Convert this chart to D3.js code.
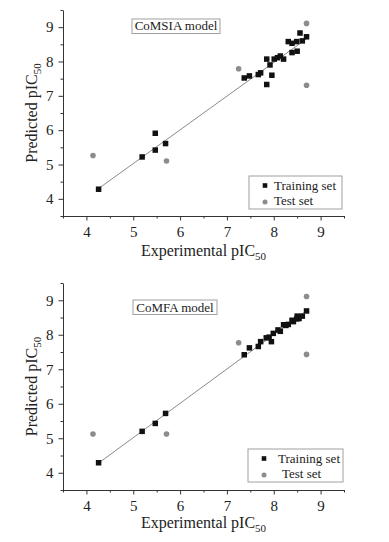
<!DOCTYPE html>
<html>
<head>
<meta charset="utf-8">
<script src="https://cdn.jsdelivr.net/npm/d3@7"></script>
<style>
  body { margin: 0; background: #fff; }
  svg { display: block; }
</style>
</head>
<body>
<div id="chart"></div>
<script>
// CoMSIA model (top panel) - [experimental, predicted]
const comsiaTraining = [
  [4.26, 4.28], [5.19, 5.22], [5.47, 5.42], [5.47, 5.91], [5.69, 5.61],
  [7.37, 7.52], [7.48, 7.58], [7.67, 7.62], [7.72, 7.67], [7.85, 8.07],
  [7.85, 7.33], [7.92, 7.90], [7.96, 7.60], [8.01, 8.07], [8.08, 8.11],
  [8.14, 8.16], [8.21, 8.07], [8.31, 8.58], [8.39, 8.53], [8.39, 8.26],
  [8.49, 8.58], [8.50, 8.30], [8.56, 8.83], [8.61, 8.60], [8.70, 8.72]
];
const comsiaTest = [[4.14, 5.26], [5.71, 5.10], [7.25, 7.79], [8.70, 9.11], [8.70, 7.31]];
const comsiaFit = [[4.26, 4.30], [8.70, 8.66]];

// CoMFA model (bottom panel)
const comfaTraining = [
  [4.26, 4.29], [5.19, 5.20], [5.47, 5.43], [5.69, 5.72],
  [7.37, 7.42], [7.48, 7.62], [7.67, 7.66], [7.72, 7.80], [7.84, 7.91],
  [7.90, 7.93], [7.95, 7.80], [7.99, 8.04], [8.09, 8.14], [8.14, 8.10],
  [8.21, 8.29], [8.26, 8.27], [8.31, 8.30], [8.39, 8.42], [8.42, 8.38],
  [8.49, 8.46], [8.50, 8.54], [8.54, 8.47], [8.61, 8.54], [8.70, 8.69]
];
const comfaTest = [[4.14, 5.12], [5.71, 5.12], [7.25, 7.77], [8.70, 9.11], [8.70, 7.43]];
const comfaFit = [[4.26, 4.28], [8.70, 8.70]];

const majorTicks = [4, 5, 6, 7, 8, 9];
const minorTicks = [3.5, 4.5, 5.5, 6.5, 7.5, 8.5, 9.5];
const legendLabels = ["Training set", "Test set"];

const W = 389, H = 542;
const font = "'Liberation Serif', 'Times New Roman', serif";

const svg = d3.select("#chart").append("svg")
  .attr("width", W)
  .attr("height", H);

// panel layout settings
const panels = [
  { title: "CoMSIA model", training: comsiaTraining, test: comsiaTest, fit: comsiaFit,
    yTop: 10, yBottom: 216, box: [132, 19, 88, 14.5], textY: 30,
    legend: [249, 176, 93, 33], legX: [25, 25], xPad: 6, xTitleY: 255.5 },
  { title: "CoMFA model", training: comfaTraining, test: comfaTest, fit: comfaFit,
    yTop: 283, yBottom: 490, box: [133, 300, 84, 14.5], textY: 311.5,
    legend: [248, 449, 95, 33], legX: [30, 34], xPad: 5.5, xTitleY: 527.5 }
];

const x0 = 63, x1 = 344;

panels.forEach(p => {
  const x = d3.scaleLinear().domain([3.5, 9.5]).range([x0, x1]);
  const y = d3.scaleLinear().domain([3.5, 9.5]).range([p.yBottom, p.yTop]);
  const g = svg.append("g");

  // minor ticks
  g.append("g")
    .attr("transform", `translate(0,${p.yBottom})`)
    .call(d3.axisBottom(x).tickValues(minorTicks).tickSize(2.5).tickFormat(""))
    .call(a => a.select(".domain").remove());
  g.append("g")
    .attr("transform", `translate(${x0},0)`)
    .call(d3.axisLeft(y).tickValues(minorTicks).tickSize(2.5).tickFormat(""))
    .call(a => a.select(".domain").remove());

  // major axes
  const xAxis = g.append("g")
    .attr("transform", `translate(0,${p.yBottom})`)
    .call(d3.axisBottom(x).tickValues(majorTicks).tickSize(4.5).tickSizeOuter(0)
      .tickPadding(p.xPad).tickFormat(d3.format("d")));
  const yAxis = g.append("g")
    .attr("transform", `translate(${x0},0)`)
    .call(d3.axisLeft(y).tickValues(majorTicks).tickSize(4.5).tickSizeOuter(0)
      .tickPadding(5).tickFormat(d3.format("d")));

  [xAxis, yAxis].forEach(a => {
    a.selectAll("path, line").attr("stroke", "#333");
    a.selectAll("text")
      .attr("font-family", font)
      .attr("font-size", 15)
      .attr("fill", "#222");
  });
  g.selectAll("line").attr("stroke", "#333");

  // fit line
  g.append("line")
    .attr("x1", x(p.fit[0][0])).attr("y1", y(p.fit[0][1]))
    .attr("x2", x(p.fit[1][0])).attr("y2", y(p.fit[1][1]))
    .attr("stroke", "#8a8a8a")
    .attr("stroke-width", 1);

  // test set
  g.selectAll("circle.test")
    .data(p.test)
    .enter().append("circle")
    .attr("class", "test")
    .attr("cx", d => x(d[0]))
    .attr("cy", d => y(d[1]))
    .attr("r", 2.8)
    .attr("fill", "#8c8c8c");

  // training set
  const s = 5.5;
  g.selectAll("rect.train")
    .data(p.training)
    .enter().append("rect")
    .attr("class", "train")
    .attr("x", d => x(d[0]) - s / 2)
    .attr("y", d => y(d[1]) - s / 2)
    .attr("width", s)
    .attr("height", s)
    .attr("fill", "#111");

  // model label box
  g.append("rect")
    .attr("x", p.box[0]).attr("y", p.box[1])
    .attr("width", p.box[2]).attr("height", p.box[3])
    .attr("fill", "white")
    .attr("stroke", "#a0a0a0");
  g.append("text")
    .attr("x", p.box[0] + p.box[2] / 2)
    .attr("y", p.textY)
    .attr("text-anchor", "middle")
    .attr("font-family", font)
    .attr("font-size", 13)
    .attr("fill", "#222")
    .text(p.title);

  // legend
  const [lx, ly, lw, lh] = p.legend;
  g.append("rect")
    .attr("x", lx).attr("y", ly)
    .attr("width", lw).attr("height", lh)
    .attr("fill", "white")
    .attr("stroke", "#a0a0a0");
  g.append("rect")
    .attr("x", lx + 16 - 2.3).attr("y", ly + 9.5 - 2.3)
    .attr("width", 4.6).attr("height", 4.6)
    .attr("fill", "#111");
  g.append("circle")
    .attr("cx", lx + 16).attr("cy", ly + 26)
    .attr("r", 2.5)
    .attr("fill", "#8c8c8c");
  g.selectAll("text.leg")
    .data(legendLabels)
    .enter().append("text")
    .attr("class", "leg")
    .attr("x", (d, i) => lx + p.legX[i])
    .attr("y", (d, i) => ly + 13.5 + i * 15.5)
    .attr("font-family", font)
    .attr("font-size", 13)
    .attr("fill", "#222")
    .text(d => d);

  // axis titles
  const xt = g.append("text")
    .attr("x", (x0 + x1) / 2)
    .attr("y", p.xTitleY)
    .attr("text-anchor", "middle")
    .attr("font-family", font)
    .attr("font-size", 16)
    .attr("fill", "#222");
  xt.append("tspan").text("Experimental pIC");
  xt.append("tspan").attr("font-size", 11).attr("dy", 4).text("50");

  const yt = g.append("text")
    .attr("transform", `translate(37,${(p.yTop + p.yBottom) / 2}) rotate(-90)`)
    .attr("text-anchor", "middle")
    .attr("font-family", font)
    .attr("font-size", 16)
    .attr("fill", "#222");
  yt.append("tspan").text("Predicted pIC");
  yt.append("tspan").attr("font-size", 11).attr("dy", 4).text("50");
});
</script>
</body>
</html>
